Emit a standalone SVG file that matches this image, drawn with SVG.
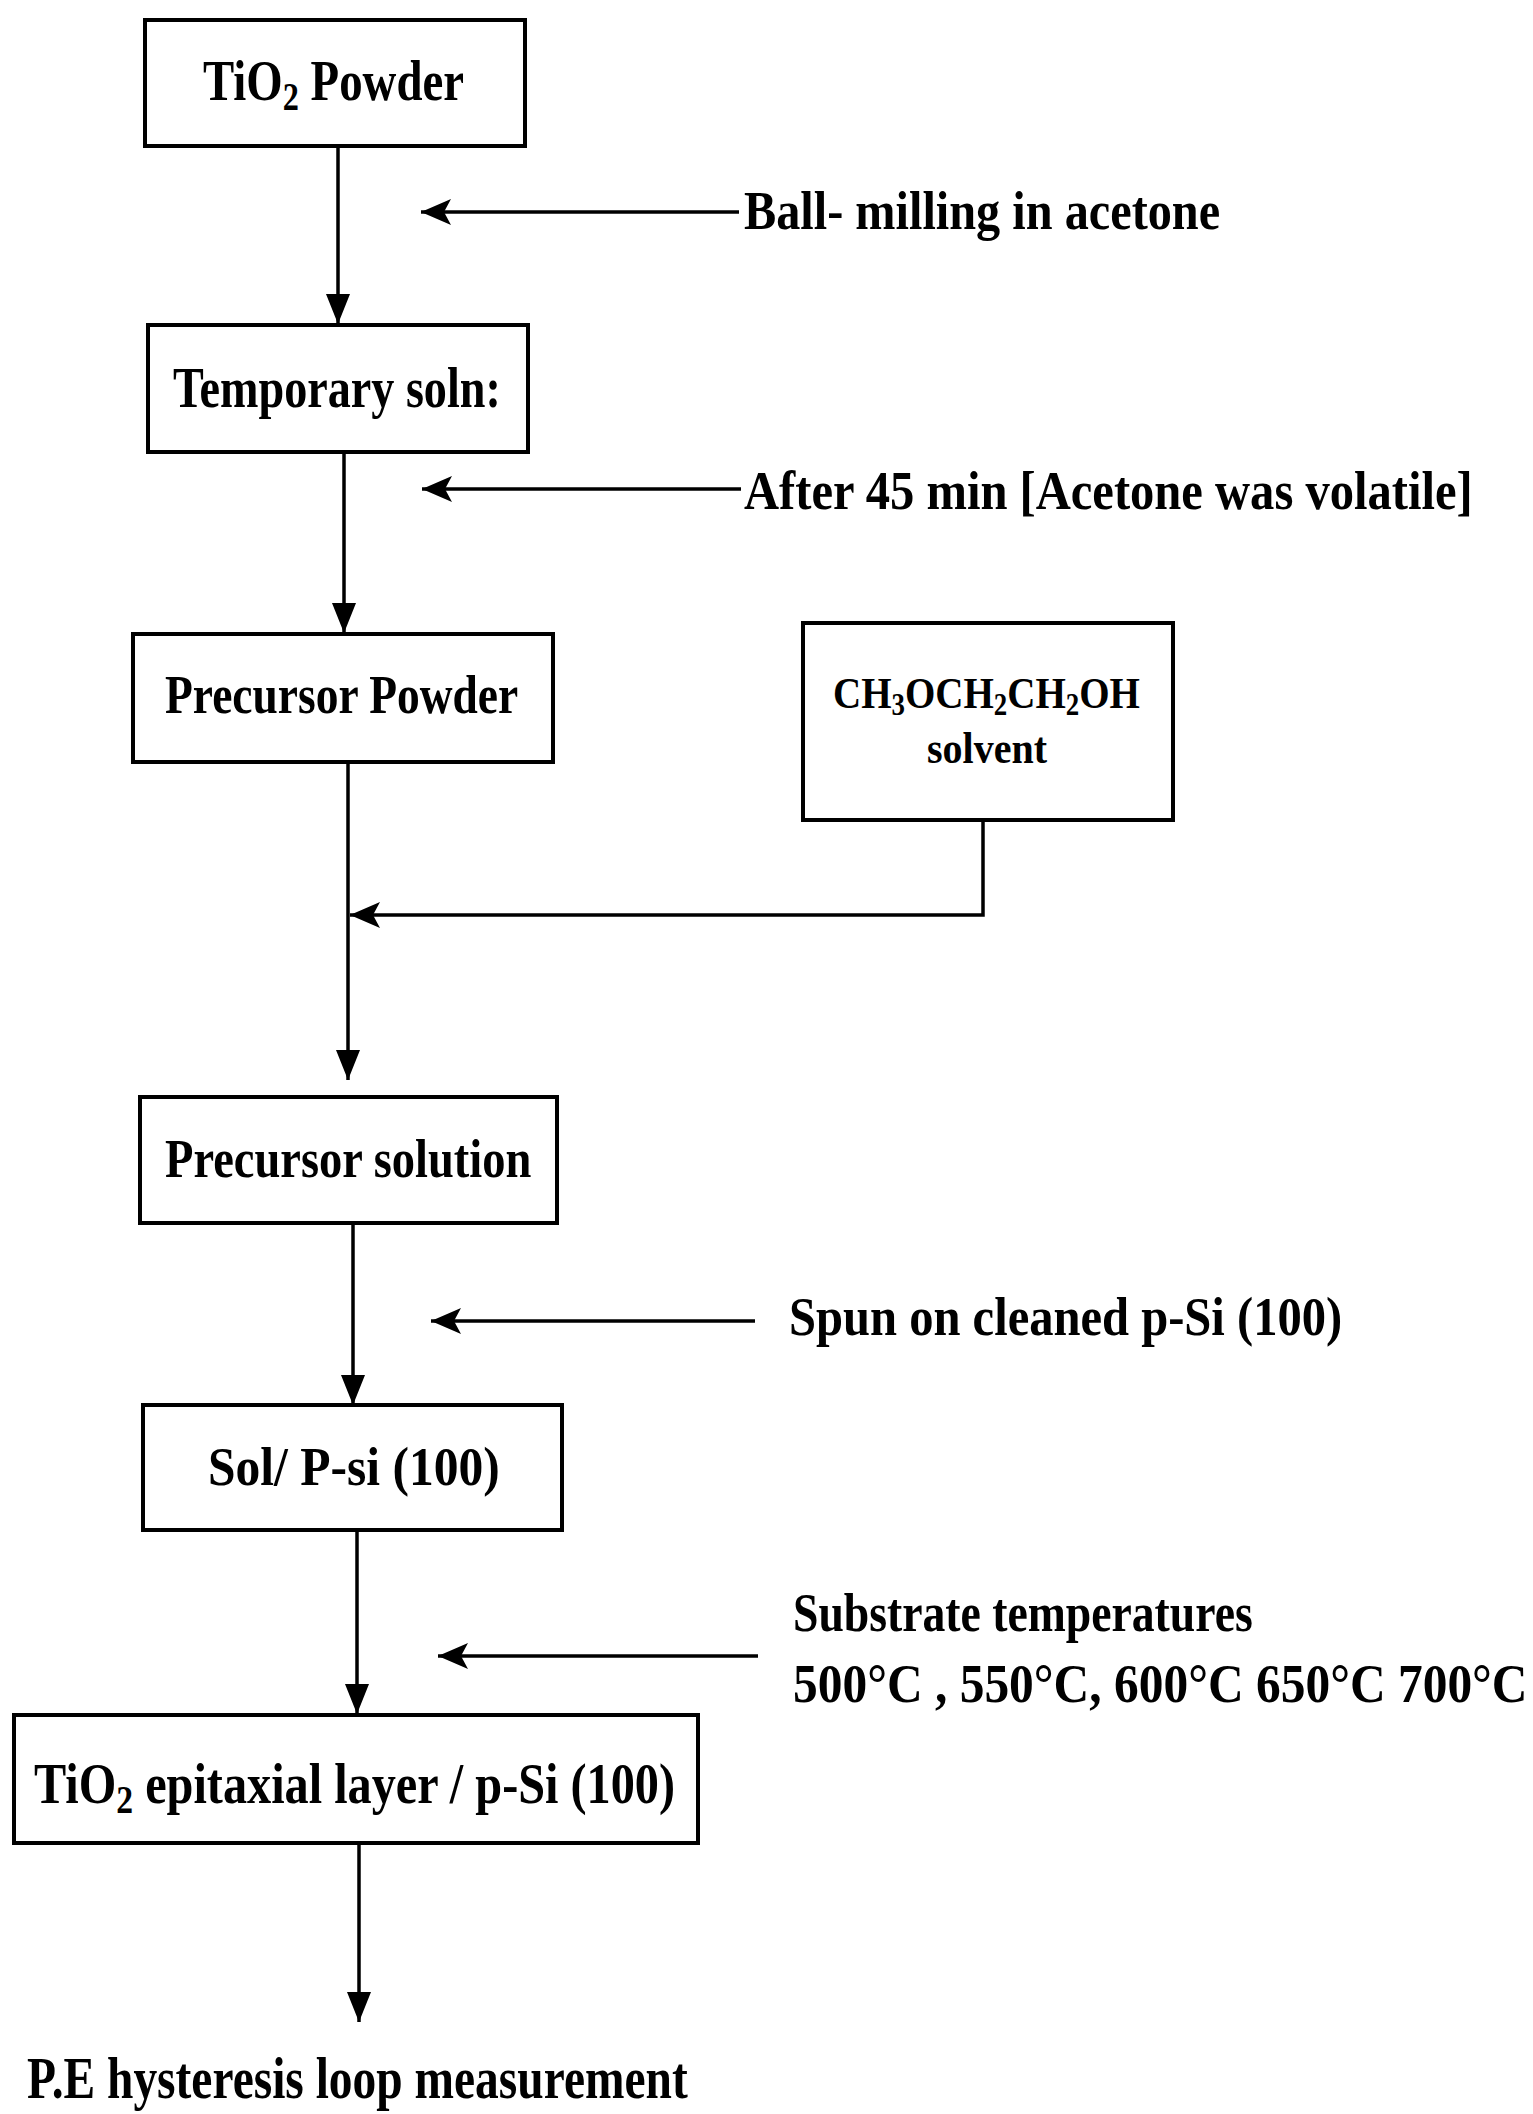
<svg xmlns="http://www.w3.org/2000/svg" width="1533" height="2114" viewBox="0 0 1533 2114">
<style>
.box{fill:#fff;stroke:#000;stroke-width:4}
.ln{fill:none;stroke:#000;stroke-width:3.5}
.t{font-family:"Liberation Serif","Times New Roman",serif;font-weight:bold;fill:#000}
</style>
<defs>
<marker id="tri" viewBox="0 0 30 24" refX="30" refY="12" markerWidth="30" markerHeight="24" markerUnits="userSpaceOnUse" orient="auto">
<path d="M0,0 L30,12 L0,24 Z" fill="#000"/>
</marker>
<marker id="barb" viewBox="0 0 30 26" refX="30" refY="13" markerWidth="30" markerHeight="26" markerUnits="userSpaceOnUse" orient="auto">
<path d="M0,0 L30,13 L0,26 L7,13 Z" fill="#000"/>
</marker>
</defs>
<rect width="1533" height="2114" fill="#fff"/>
<g id="connectors">
<line class="ln" x1="338" y1="146" x2="338" y2="324" marker-end="url(#tri)"/>
<line class="ln" x1="344" y1="452" x2="344" y2="633" marker-end="url(#tri)"/>
<line class="ln" x1="348" y1="762" x2="348" y2="1080" marker-end="url(#tri)"/>
<line class="ln" x1="353" y1="1223" x2="353" y2="1405" marker-end="url(#tri)"/>
<line class="ln" x1="357" y1="1530" x2="357" y2="1714" marker-end="url(#tri)"/>
<line class="ln" x1="359" y1="1843" x2="359" y2="2022" marker-end="url(#tri)"/>
<line class="ln" x1="739" y1="212" x2="421" y2="212" marker-end="url(#barb)"/>
<line class="ln" x1="741" y1="489" x2="422" y2="489" marker-end="url(#barb)"/>
<line class="ln" x1="755" y1="1321" x2="431" y2="1321" marker-end="url(#barb)"/>
<line class="ln" x1="758" y1="1656" x2="438" y2="1656" marker-end="url(#barb)"/>
<polyline class="ln" points="983,820 983,915 350,915" marker-end="url(#barb)"/>
</g>
<g id="n1">
<rect class="box" x="145" y="20" width="380" height="126"/>
<text class="t" transform="translate(203,100) scale(0.807,1)" font-size="58">TiO<tspan font-size="40" dy="10">2</tspan><tspan dy="-10"> Powder</tspan></text>
</g>
<g id="n2">
<rect class="box" x="148" y="325" width="380" height="127"/>
<text class="t" transform="translate(173,407) scale(0.796,1)" font-size="58">Temporary soln:</text>
</g>
<g id="n3">
<rect class="box" x="133" y="634" width="420" height="128"/>
<text class="t" transform="translate(165,713) scale(0.827,1)" font-size="55">Precursor Powder</text>
</g>
<g id="n4">
<rect class="box" x="803" y="623" width="370" height="197"/>
<text class="t" transform="translate(833,708) scale(0.867,1)" font-size="45">CH<tspan font-size="31" dy="7">3</tspan><tspan dy="-7">OCH</tspan><tspan font-size="31" dy="7">2</tspan><tspan dy="-7">CH</tspan><tspan font-size="31" dy="7">2</tspan><tspan dy="-7">OH</tspan></text>
<text class="t" transform="translate(927,763) scale(0.889,1)" font-size="45">solvent</text>
</g>
<g id="n5">
<rect class="box" x="140" y="1097" width="417" height="126"/>
<text class="t" transform="translate(165,1177) scale(0.861,1)" font-size="54">Precursor solution</text>
</g>
<g id="n6">
<rect class="box" x="143" y="1405" width="419" height="125"/>
<text class="t" transform="translate(208,1485) scale(0.885,1)" font-size="56">Sol/ P-si (100)</text>
</g>
<g id="n7">
<rect class="box" x="14" y="1715" width="684" height="128"/>
<text class="t" transform="translate(34,1803) scale(0.862,1)" font-size="56">TiO<tspan font-size="39" dy="10">2</tspan><tspan dy="-10"> epitaxial layer / p-Si (100)</tspan></text>
</g>
<g id="n8">
<text class="t" transform="translate(27,2098) scale(0.791,1)" font-size="60">P.E hysteresis loop measurement</text>
</g>
<g id="labels">
<text class="t" transform="translate(744,229) scale(0.878,1)" font-size="55">Ball- milling in acetone</text>
<text class="t" transform="translate(744,509) scale(0.883,1)" font-size="55">After 45 min [Acetone was volatile]</text>
<text class="t" transform="translate(789,1335) scale(0.883,1)" font-size="55">Spun on cleaned p-Si (100)</text>
<text class="t" transform="translate(793,1631) scale(0.831,1)" font-size="55">Substrate temperatures</text>
<text class="t" transform="translate(793,1702) scale(0.899,1)" font-size="55">500°C , 550°C, 600°C 650°C 700°C</text>
</g>
</svg>
